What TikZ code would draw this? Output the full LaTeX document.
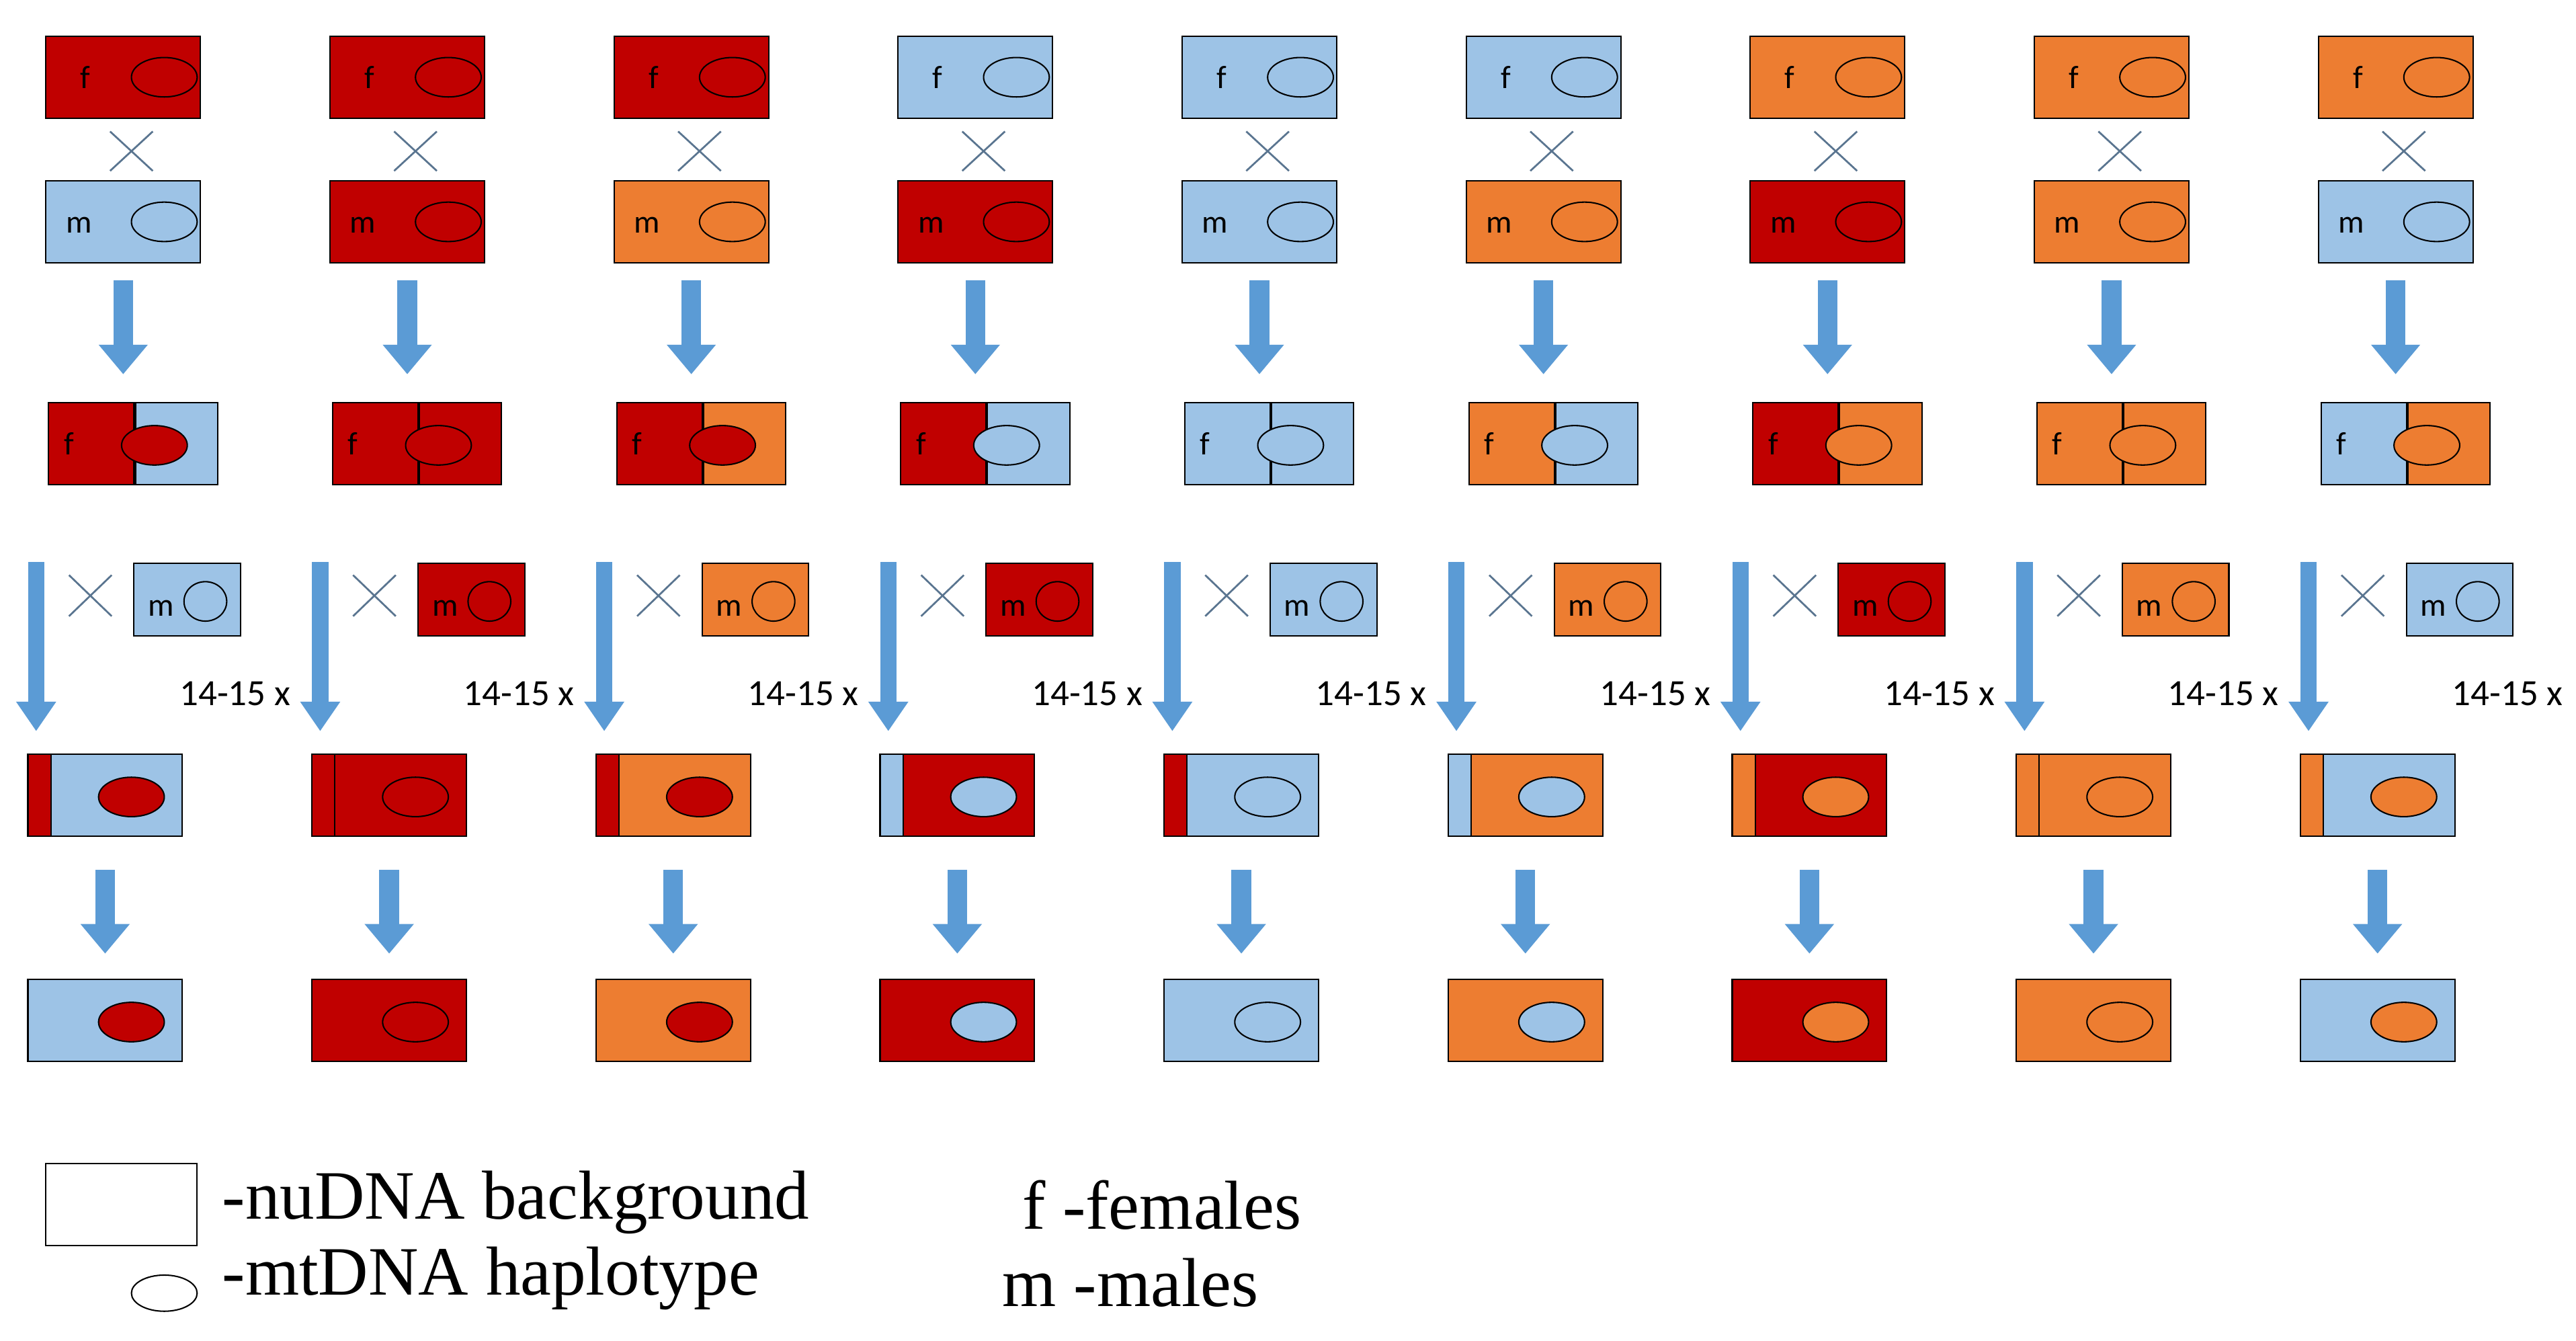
\documentclass[tikz,border=0pt]{standalone}
\usepackage{fontspec}
\setmainfont{Liberation Serif}
\newfontfamily\boxfont{Carlito}
\usetikzlibrary{arrows.meta, positioning, shapes.geometric}
\definecolor{nured}{HTML}{C00000}
\definecolor{nublue}{HTML}{9DC3E6}
\definecolor{nuorange}{HTML}{ED7D31}
\definecolor{flowblue}{HTML}{5B9BD5}
\definecolor{crossgray}{HTML}{5A7590}

\tikzset{
	box/.style={draw, rectangle, line width=0.6pt, inner sep=0pt, minimum width=2.35cm, minimum height=1.25cm},
	mini/.style={draw, rectangle, line width=0.6pt, inner sep=0pt, minimum width=1.62cm, minimum height=1.1cm},
	hap/.style={draw, ellipse, line width=0.6pt, inner sep=0pt, minimum width=1cm, minimum height=0.6cm},
	sex/.style={font=\boxfont\fontsize{14}{14}\selectfont, inner sep=0pt},
	flow/.style={draw=flowblue, line width=0.3cm, -{Triangle[width=0.72cm, length=0.45cm]}},
	longflow/.style={draw=flowblue, line width=0.25cm, -{Triangle[width=0.58cm, length=0.45cm]}},
	cross/.style={draw=crossgray, line width=0.8pt},
	legend/.style={font=\fontsize{30}{30}\selectfont, inner sep=0pt, anchor=base west}
}

\begin{document}
\begin{tikzpicture}[x=0.025cm, y=-0.025cm]
	\useasboundingbox (0,0) rectangle (1568,816);

	% one column per cross: female, male, hybrid left|right, mtDNA, strip
	\foreach \i/\fc/\mc/\hl/\hr/\mt/\st in {
		1/nured/nublue/nured/nublue/nured/nured,
		2/nured/nured/nured/nured/nured/nured,
		3/nured/nuorange/nured/nuorange/nured/nured,
		4/nublue/nured/nured/nublue/nublue/nublue,
		5/nublue/nublue/nublue/nublue/nublue/nured,
		6/nublue/nuorange/nuorange/nublue/nublue/nublue,
		7/nuorange/nured/nured/nuorange/nuorange/nuorange,
		8/nuorange/nuorange/nuorange/nuorange/nuorange/nuorange,
		9/nuorange/nublue/nublue/nuorange/nuorange/nuorange}{
		\pgfmathsetmacro{\bx}{28+172.9*(\i-1)}

		% parents
		\node[box, fill=\fc] (f\i) at (\bx+47,47) {};
		\node[sex] at (\bx+24,47) {f};
		\node[hap, fill=\fc] at (\bx+72,47) {};
		\draw[cross] (\bx+39,80) -- (\bx+65,104) (\bx+39,104) -- (\bx+65,80);
		\node[box, fill=\mc] (m\i) at (\bx+47,135) {};
		\node[sex] at (\bx+20,137) {m};
		\node[hap, fill=\mc] at (\bx+72,135) {};

		% hybrid F1
		\node[box, minimum width=1.3cm, fill=\hl, anchor=east] (hl\i) at (\bx+54,270) {};
		\node[box, minimum width=1.25cm, fill=\hr, anchor=west] (hr\i) at (\bx+54,270) {};
		\node[sex] at (\bx+14,270) {f};
		\node[hap, fill=\mt] at (\bx+66,271) {};
		\draw[flow, shorten <=0.25cm, shorten >=0.42cm] (m\i.south) -- (m\i.south |- hl\i.north);

		% backcrossing
		\coordinate (bs\i) at (\bx-6,342);
		\coordinate (be\i) at (\bx-6,445);
		\draw[longflow] (bs\i) -- (be\i);
		\draw[cross] (\bx+14,350) -- (\bx+40,375) (\bx+14,375) -- (\bx+40,350);
		\node[mini, fill=\mc] (b\i) at (\bx+86,365) {};
		\node[sex] at (\bx+70,370) {m};
		\node[hap, minimum width=0.65cm, minimum height=0.6cm, fill=\mc] at (\bx+97,366) {};
		\node[font=\boxfont\fontsize{16}{16}\selectfont] at (\bx+115,422) {14-15 x};

		% after backcrossing
		\node[box, fill=\mc] (g\i) at (\bx+36,484) {};
		\node[draw, line width=0.6pt, inner sep=0pt, minimum width=0.35cm, minimum height=1.25cm, fill=\st, anchor=west] at (g\i.west) {};
		\node[hap, fill=\mt] at (\bx+52,485) {};

		% final
		\node[box, fill=\mc] (e\i) at (\bx+36,621) {};
		\node[hap, fill=\mt] at (\bx+52,622) {};
		\draw[flow, shorten <=0.5cm, shorten >=0.38cm] (g\i.south) -- (e\i.north);
	}

	% legend
	\node[box, minimum width=2.3cm] (lbox) at (74,733) {};
	\node[legend] at (135,742) {-nuDNA background};
	\node[hap, minimum height=0.55cm] (lhap) at (100,787) {};
	\node[legend] at (135,788) {-mtDNA haplotype};
	\node[legend] at (622,748) {f -females};
	\node[legend] at (610,795) {m -males};
\end{tikzpicture}
\end{document}
